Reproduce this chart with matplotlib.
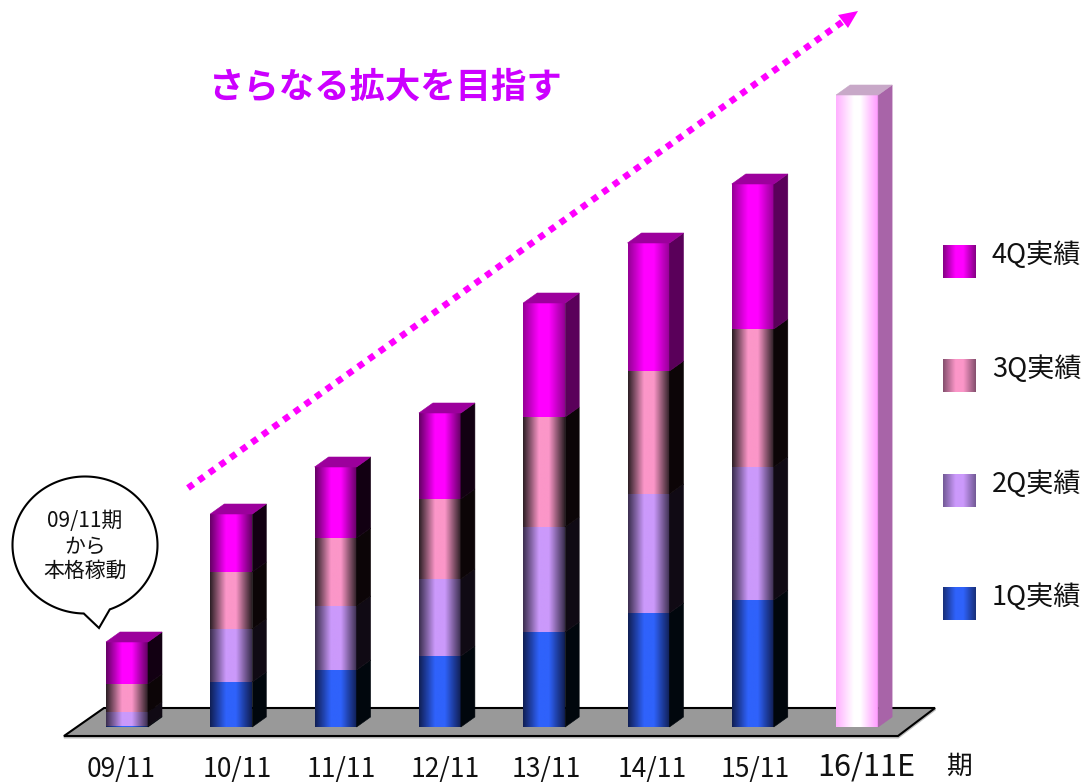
import numpy as np
import matplotlib
matplotlib.use("Agg")
import matplotlib.pyplot as plt
from matplotlib.colors import LinearSegmentedColormap
from matplotlib.patches import Polygon

plt.rcParams['font.family'] = ['Noto Sans CJK JP', 'DejaVu Sans']

periods = ['09/11', '10/11', '11/11', '12/11', '13/11', '14/11', '15/11', '16/11E']
q1 = [1, 45, 57, 71, 95, 114, 127, 0]
q2 = [14, 53, 64, 77, 105, 119, 133, 0]
q3 = [28, 57, 68, 80, 110, 123, 138, 0]
q4 = [42, 58, 71, 86, 114, 128, 145, 0]
forecast = [0, 0, 0, 0, 0, 0, 0, 632]
legend_labels = ['4Q実績', '3Q実績', '2Q実績', '1Q実績']

W, H = 1084, 784
fig = plt.figure(figsize=(W / 100, H / 100), dpi=100)
ax = fig.add_axes([0, 0, 1, 1])
ax.set_xlim(0, W)
ax.set_ylim(H, 0)
ax.axis('off')

BASE, X0, STEP, BW, DX, DY = 727, 106, 104.3, 42, 14, 10


def cmap(edge, mid):
    return LinearSegmentedColormap.from_list('c', [(0, edge), (.38, mid), (.62, mid), (1, edge)])


def grad(x0, x1, y0, y1, cm, z):
    g = np.linspace(0, 1, 64).reshape(1, -1)
    ax.imshow(g, extent=[x0, x1, y1, y0], cmap=cm, aspect='auto', zorder=z, interpolation='bilinear')


def side_face(x, y, v, color, z):
    ax.add_patch(Polygon([(x + BW, y), (x + BW + DX, y - DY), (x + BW + DX, y - v - DY), (x + BW, y - v)],
                         closed=True, fc=color, ec=color, lw=0.4, zorder=z))


styles = {
    'q1': (cmap('#101f55', '#2f62fb'), '#01070d', '#1a3aa0'),
    'q2': (cmap('#3c2f50', '#cb99fb'), '#100a14', '#8060b0'),
    'q3': (cmap('#2e2026', '#fb96c8'), '#0c0507', '#a06080'),
    'q4': (cmap('#950095', '#ff00ff'), '#5a005a', '#9c009c'),
}
dark_q4 = cmap('#660066', '#ff00ff')
fc_cm = LinearSegmentedColormap.from_list('f', [(0, '#ffb0ff'), (.42, '#ffffff'), (.58, '#ffffff'), (1, '#ff9cff')])

# floor
ax.add_patch(Polygon([(64, 737), (104, 709), (935, 709), (898, 737)], closed=True,
                     fc='none', ec='#bbbbbb', lw=2.2, zorder=1))
ax.add_patch(Polygon([(64, 736), (104, 708), (935, 708), (898, 736)], closed=True,
                     fc='#999999', ec='black', lw=1.5, zorder=1))

label_shift = [-6, 6, 6, 5, 2, 4, 2, 9]

# stacked bars
for i, p in enumerate(periods):
    x = X0 + STEP * i
    y = BASE
    z = 3 + i
    topmost = None
    for key, vals in (('q1', q1), ('q2', q2), ('q3', q3), ('q4', q4)):
        v = vals[i]
        if v == 0:
            continue
        cm, side, top = styles[key]
        if key == 'q4' and i < 4:
            side, cm = '#120012', dark_q4
        grad(x, x + BW, y - v, y, cm, z)
        side_face(x, y, v, side, z)
        y -= v
        topmost = top
    if forecast[i]:
        v = forecast[i]
        grad(x, x + BW, y - v, y, fc_cm, z)
        side_face(x, y, v, '#a864a8', z)
        y -= v
        topmost = '#c8a8c8'
    ax.add_patch(Polygon([(x, y), (x + DX, y - DY), (x + BW + DX, y - DY), (x + BW, y)],
                         closed=True, fc=topmost, ec=topmost, lw=0.4, zorder=z))
    ax.text(x + BW / 2 + label_shift[i], 770 if i < 7 else 767, p,
            ha='center', va='center', fontsize=19 if i < 7 else 22, color='#111111', zorder=20)

ax.text(959, 767, '期', ha='center', va='center', fontsize=18.5, color='#111111')

# trend arrow
ax.plot([188, 845], [488, 20], color='#ff00ff', lw=4.7, linestyle=(0, (1, 1)), zorder=2)
ax.add_patch(Polygon([(858, 11), (838, 15), (848, 28)], closed=True, fc='#ff00ff', ec='none', zorder=2))
ax.text(386, 87, 'さらなる拡大を目指す', ha='center', va='center', fontsize=25.5, color='#cc00ff',
        fontweight='bold', zorder=20)

# legend
leg_cms = [cmap('#850085', '#ff00ff'), cmap('#85506e', '#fb96c8'), cmap('#735a96', '#cb99fb'), cmap('#18307a', '#2f62fb')]
for lab, cm, yy in zip(legend_labels, leg_cms, (245, 359, 474, 587)):
    grad(943, 976, yy, yy + 33, cm, 5)
    ax.text(992, yy + 10, lab, ha='left', va='center', fontsize=19.5, color='#111111')

# callout bubble
th = np.radians(np.linspace(70, 70 - 339, 300))
ex = 85 + 72.5 * np.cos(th)
ey = 545 + 68.5 * np.sin(th)
outline = [(99, 628)] + list(zip(ex, ey))
ax.add_patch(Polygon(outline, closed=True, fc='white', ec='black', lw=1.5, zorder=30, joinstyle='miter'))
for txt, yy in (('09/11期', 521), ('から', 547), ('本格稼動', 571)):
    ax.text(85, yy, txt, ha='center', va='center', fontsize=15, color='#111111', zorder=32)

ax.set_xlim(0, W)
ax.set_ylim(H, 0)
fig.savefig('out.png', dpi=100)
